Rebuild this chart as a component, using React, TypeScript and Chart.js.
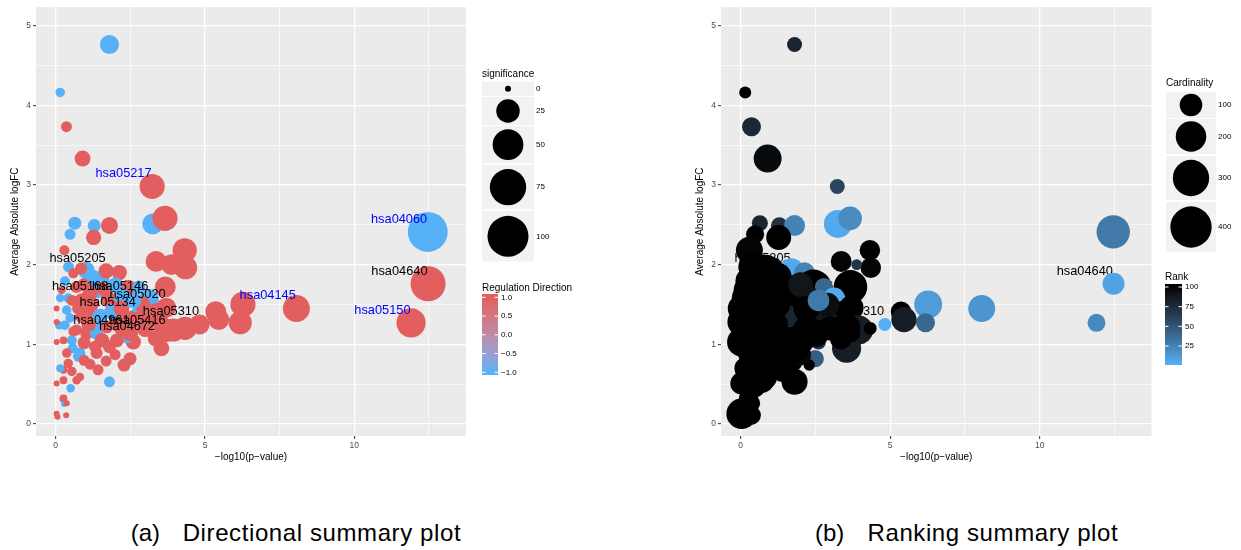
import React, { useEffect, useRef } from "react";
import { Chart, registerables } from "chart.js";

Chart.register(...registerables);

const FONT = "'Liberation Sans', Arial, Helvetica, sans-serif";
Chart.defaults.font.family = FONT;

// ---- Data ----
// -log10(p-value)
const pathX = [
  1.80, 0.15, 0.36, 0.90, 3.23, 3.25, 3.66, 12.46, 12.47, 11.90,
  8.06, 6.27, 6.18, 5.36, 5.46, 4.82, 4.32, 4.35, 3.88, 3.36,
  3.67, 1.29, 1.80, 1.27, 0.64, 0.48, 0.29, 0.43, 1.02, 0.31,
  1.48, 1.41, 1.69, 2.13, 2.43, 2.78, 3.12, 3.38, 3.70, 3.94,
  4.33, 3.54, 3.35, 3.70, 2.60, 2.49, 2.29, 2.38, 1.80, 1.42,
  1.69, 1.99, 1.80, 1.32, 0.81, 0.76, 0.54, 0.57, 0.50, 0.26,
  0.28, 0.37, 0.03, 0.06, 0.35, 0.03, 0.26, 0.26, 0.15, 0.70,
  0.81, 0.54, 0.42, 0.37, 0.03, 0.26, 0.12, 0.31, 0.03, 0.03,
  0.37, 0.15, 0.42, 0.20, 0.48, 0.70, 0.59, 1.04, 1.32, 1.37,
  0.87, 1.09, 0.87, 1.15, 0.70, 0.59, 1.71, 2.04, 1.78, 2.21,
  1.88, 2.70, 2.49, 2.82, 1.48, 1.37, 2.49, 1.10, 1.55, 2.05,
  0.95, 2.20, 1.20, 3.60, 0.75, 0.95, 1.25, 0.55, 0.85, 1.60,
  2.00, 1.15, 0.95, 2.20, 2.90, 3.00, 2.60,
];
// Average absolute logFC
const pathY = [
  4.76, 4.16, 3.73, 3.33, 2.98, 2.51, 2.58, 2.41, 1.76, 1.27,
  1.45, 1.50, 1.27, 1.41, 1.31, 1.25, 2.18, 1.96, 2.00, 2.04,
  1.72, 2.49, 2.49, 2.34, 2.52, 2.38, 2.18, 1.97, 1.93, 1.79,
  1.79, 1.66, 1.92, 1.90, 1.71, 1.72, 1.57, 1.37, 1.46, 1.18,
  1.20, 0.95, 1.07, 1.14, 1.03, 0.82, 0.74, 1.10, 0.53, 0.68,
  0.79, 0.87, 0.97, 0.97, 0.89, 0.85, 1.05, 0.95, 0.45, 0.32,
  0.25, 0.26, 0.13, 0.09, 0.11, 0.51, 0.55, 0.68, 0.70, 0.55,
  0.59, 0.66, 0.76, 0.89, 1.03, 1.05, 1.24, 1.24, 1.28, 1.45,
  1.43, 1.58, 1.58, 1.68, 1.33, 1.18, 1.16, 1.14, 1.22, 1.14,
  1.35, 1.41, 1.56, 1.64, 1.72, 1.89, 1.22, 1.26, 1.56, 1.60,
  1.41, 1.36, 1.31, 1.31, 1.35, 0.89, 1.14, 1.25, 1.05, 1.05,
  1.02, 1.45, 1.50, 1.22, 1.45, 1.75, 1.85, 1.55, 1.95, 1.70,
  1.75, 0.75, 0.80, 1.20, 1.50, 1.20, 1.55,
];
// Regulation direction (1 = up, -1 = down)
const pathDir = [
  -1, -1, 1, 1, 1, -1, 1, -1, 1, 1,
  1, 1, 1, 1, 1, 1, 1, 1, 1, 1,
  1, -1, 1, 1, -1, -1, 1, -1, -1, -1,
  -1, -1, 1, 1, 1, -1, -1, 1, 1, 1,
  1, 1, 1, 1, 1, 1, 1, -1, -1, 1,
  1, 1, 1, 1, -1, -1, -1, -1, -1, 1,
  -1, 1, 1, 1, 1, 1, 1, 1, -1, 1,
  1, 1, 1, 1, 1, 1, -1, -1, 1, 1,
  -1, -1, -1, 1, -1, 1, 1, 1, -1, -1,
  1, 1, 1, 1, 1, 1, 1, 1, 1, -1,
  -1, -1, 1, 1, -1, 1, 1, 1, 1, 1,
  1, 1, 1, 1, 1, 1, -1, 1, 1, 1,
  -1, 1, 1, 1, 1, 1, -1,
];
// Significance (bubble size, panel a)
const pathSignificance = [
  14, 1, 2, 8, 30, 18, 30, 94, 69, 44,
  36, 30, 24, 18, 18, 16, 27, 24, 18, 18,
  18, 4, 10, 7, 4, 2, 1.3, 2, 10, 1.3,
  16, 4, 7, 7, 8, 4, 16, 24, 16, 24,
  24, 8, 8, 12, 7, 4, 4, 5, 2, 2,
  2, 2, 4, 3, 2, 2, 1.3, 1.3, 0.5, 0.3,
  0, 0, 0, 0, 0, 0, 0.3, 0.3, 0.3, 0.5,
  0.5, 1, 1, 1, 0, 0.3, 0.5, 1, 0, 0,
  1, 0.5, 1, 0.3, 1, 2, 1.3, 4, 7, 4,
  4, 5, 4, 7, 3, 1.3, 4, 7, 8, 8,
  7, 7, 10, 10, 7, 3, 8, 6, 6, 5,
  4, 8, 6, 14, 3, 4, 5, 2, 3, 5,
  6, 2, 2, 6, 8, 10, 8,
];
// Cardinality (bubble size, panel b)
const pathCardinality = [
  40, 26, 67, 164, 40, 164, 110, 246, 94, 59,
  150, 164, 67, 80, 130, 30, 80, 80, 22, 84,
  250, 50, 84, 126, 46, 60, 150, 200, 140, 180,
  80, 120, 130, 80, 300, 60, 100, 150, 120, 180,
  30, 180, 90, 60, 40, 55, 24, 90, 140, 120,
  100, 90, 200, 160, 150, 130, 170, 150, 60, 70,
  40, 50, 200, 60, 70, 100, 110, 120, 90, 130,
  120, 140, 150, 160, 180, 170, 160, 180, 170, 160,
  190, 150, 170, 140, 200, 180, 170, 200, 180, 160,
  190, 170, 200, 180, 200, 150, 250, 140, 160, 110,
  150, 90, 140, 120, 130, 140, 160, 170, 150, 130,
  160, 140, 150, 110, 160, 170, 150, 180, 160, 150,
  120, 140, 150, 130, 110, 120, 90,
];
// Rank (colour, panel b)
const pathRank = [
  80, 100, 78, 96, 60, 5, 20, 30, 8, 22,
  15, 12, 40, 100, 85, 2, 100, 98, 70, 98,
  100, 72, 25, 100, 80, 100, 98, 100, 100, 100,
  60, 95, 5, 25, 100, 40, 5, 100, 100, 85,
  100, 85, 100, 100, 75, 45, 100, 20, 100, 100,
  100, 98, 100, 100, 100, 100, 100, 100, 100, 100,
  100, 100, 100, 100, 100, 100, 100, 100, 100, 100,
  100, 100, 100, 100, 100, 100, 100, 100, 100, 100,
  100, 100, 100, 100, 100, 100, 100, 100, 96, 100,
  100, 100, 100, 100, 100, 100, 100, 100, 100, 90,
  100, 70, 100, 90, 80, 100, 100, 100, 100, 100,
  100, 100, 100, 100, 100, 100, 100, 100, 100, 100,
  90, 100, 100, 100, 95, 100, 30,
];

// Text labels: pathway id, index of the point it annotates, blue text?
const labelNames = [
  "hsa05217", "hsa04060", "hsa04640", "hsa05150", "hsa04145",
  "hsa05205", "hsa05168", "hsa05146", "hsa05020", "hsa05134",
  "hsa05310", "hsa04961", "hsa05416", "hsa04672",
];
const labelPoint = [4, 7, 8, 9, 10, 32, 98, 36, 38, 101, 15, 106, 43, 42];
const labelBlue = [true, true, false, true, true, false, false, false, false, false, false, false, false, false];

// Axes
const xTicks = [0, 2.5, 5, 7.5, 10, 12.5];
const xMajor = [0, 5, 10];
const yTicks = [0, 0.5, 1, 1.5, 2, 2.5, 3, 3.5, 4, 4.5, 5];
const yMajor = [0, 1, 2, 3, 4, 5];

// Legends
const sigLegend = [0, 25, 50, 75, 100];
const dirLegend = [1, 0.5, 0, -0.5, -1];
const cardLegend = [100, 200, 300, 400];
const rankLegend = [100, 75, 50, 25];

// ---- Scales / helpers ----
const X_MIN = -0.66, X_MAX = 13.74, Y_MIN = -0.15, Y_MAX = 5.23;
const NUDGE_X = -0.96, NUDGE_Y = 0.16;
const BLUE = "#56B1F7", RED = "#E35E5E", BLACK = "#000000";

const sizeSig = (v: number) => 3 + 1.75 * Math.sqrt(Math.max(v, 0));
const sizeCard = (c: number) => 3 + 0.9 * Math.sqrt(Math.max(c - 15, 0));

function hexToRgb(h: string) {
  return [parseInt(h.slice(1, 3), 16), parseInt(h.slice(3, 5), 16), parseInt(h.slice(5, 7), 16)];
}
const toLin = (c: number) => { c /= 255; return c <= 0.04045 ? c / 12.92 : Math.pow((c + 0.055) / 1.055, 2.4); };
const fromLin = (c: number) => {
  const v = c <= 0.0031308 ? 12.92 * c : 1.055 * Math.pow(Math.max(c, 0), 1 / 2.4) - 0.055;
  return Math.round(Math.max(0, Math.min(1, v)) * 255);
};
function rgbToLab(rgb: number[]) {
  const R = toLin(rgb[0]), G = toLin(rgb[1]), B = toLin(rgb[2]);
  const X = (0.4124 * R + 0.3576 * G + 0.1805 * B) / 0.95047;
  const Y = 0.2126 * R + 0.7152 * G + 0.0722 * B;
  const Z = (0.0193 * R + 0.1192 * G + 0.9505 * B) / 1.08883;
  const f = (t: number) => (t > 0.008856 ? Math.cbrt(t) : 7.787 * t + 16 / 116);
  const fx = f(X), fy = f(Y), fz = f(Z);
  return [116 * fy - 16, 500 * (fx - fy), 200 * (fy - fz)];
}
function labToRgb(lab: number[]) {
  const fy = (lab[0] + 16) / 116, fx = fy + lab[1] / 500, fz = fy - lab[2] / 200;
  const inv = (t: number) => (t * t * t > 0.008856 ? t * t * t : (t - 16 / 116) / 7.787);
  const X = inv(fx) * 0.95047, Y = inv(fy), Z = inv(fz) * 1.08883;
  const R = 3.2406 * X - 1.5372 * Y - 0.4986 * Z;
  const G = -0.9689 * X + 1.8758 * Y + 0.0415 * Z;
  const B = 0.0557 * X - 0.204 * Y + 1.057 * Z;
  return `rgb(${fromLin(R)},${fromLin(G)},${fromLin(B)})`;
}
function mixLab(a: string, b: string, t: number) {
  const la = rgbToLab(hexToRgb(a)), lb = rgbToLab(hexToRgb(b));
  const tt = Math.max(0, Math.min(1, t));
  return labToRgb([0, 1, 2].map((k) => la[k] + (lb[k] - la[k]) * tt));
}
const dirColor = (d: number) => mixLab(BLUE, RED, (d + 1) / 2);
const rankColor = (r: number) => mixLab(BLUE, BLACK, (r - 1) / 99);
const minus = (s: string) => s.replace("-", "\u2212");

type Panel = "a" | "b";

function drawLabels(chart: any, panel: Panel) {
  const { ctx, scales } = chart;
  ctx.save();
  ctx.font = `12.8px ${FONT}`;
  ctx.textAlign = "center";
  ctx.textBaseline = "middle";
  labelNames.forEach((name, i) => {
    if (panel === "b" && labelBlue[i]) return;
    const p = labelPoint[i];
    const x = scales.x.getPixelForValue(pathX[p] + NUDGE_X);
    const y = scales.y.getPixelForValue(pathY[p] + NUDGE_Y);
    ctx.fillStyle = labelBlue[i] ? "#0000FF" : "#000000";
    ctx.fillText(name, x, y);
  });
  ctx.restore();
}

function drawAxisTitles(chart: any) {
  const { ctx, chartArea: ca } = chart;
  ctx.save();
  ctx.fillStyle = "#000";
  ctx.font = `10px ${FONT}`;
  ctx.textAlign = "center";
  ctx.textBaseline = "middle";
  ctx.fillText("\u2212log10(p\u2212value)", (ca.left + ca.right) / 2, ca.bottom + 21);
  ctx.translate(ca.left - 20.5, (ca.top + ca.bottom) / 2);
  ctx.rotate(-Math.PI / 2);
  ctx.fillText("Average Absolute logFC", 0, 0);
  ctx.restore();
}

function drawSizeKeys(ctx: any, title: string, titleY: number, x: number, w: number,
  tops: number[], hs: number[], values: number[], size: (v: number) => number, labelX: number) {
  ctx.fillStyle = "#000";
  ctx.font = `10px ${FONT}`;
  ctx.textAlign = "left";
  ctx.textBaseline = "middle";
  ctx.fillText(title, x, titleY);
  values.forEach((v, i) => {
    ctx.fillStyle = "#F2F2F2";
    ctx.fillRect(x, tops[i], w, hs[i]);
    const cy = tops[i] + hs[i] / 2;
    ctx.fillStyle = "#000";
    ctx.beginPath();
    ctx.arc(x + w / 2, cy, size(v), 0, Math.PI * 2);
    ctx.fill();
    ctx.font = `8px ${FONT}`;
    ctx.fillText(String(v), labelX, cy);
  });
}

function drawColorBar(ctx: any, title: string, titleY: number, x: number, w: number, y0: number, y1: number,
  valToY: (v: number) => number, yToColor: (y: number) => string, ticks: number[], fmt: (v: number) => string, labelX: number) {
  ctx.fillStyle = "#000";
  ctx.font = `10px ${FONT}`;
  ctx.textAlign = "left";
  ctx.textBaseline = "middle";
  ctx.fillText(title, x, titleY);
  const g = ctx.createLinearGradient(0, y0, 0, y1);
  const n = 30;
  for (let k = 0; k <= n; k++) {
    const y = y0 + ((y1 - y0) * k) / n;
    g.addColorStop(k / n, yToColor(y));
  }
  ctx.fillStyle = g;
  ctx.fillRect(x, y0, w, y1 - y0);
  ctx.strokeStyle = "#FFFFFF";
  ctx.lineWidth = 1;
  ctx.font = `8px ${FONT}`;
  ticks.forEach((v) => {
    const y = valToY(v);
    ctx.beginPath();
    ctx.moveTo(x, y); ctx.lineTo(x + 3.5, y);
    ctx.moveTo(x + w - 3.5, y); ctx.lineTo(x + w, y);
    ctx.stroke();
    ctx.fillStyle = "#000";
    ctx.fillText(fmt(v), labelX, y);
  });
}

function drawLegend(chart: any, panel: Panel) {
  const ctx = chart.ctx;
  ctx.save();
  if (panel === "a") {
    drawSizeKeys(ctx, "significance", 74, 482, 52,
      [81.7, 97, 126, 165, 211], [14.3, 28, 37.3, 44.3, 50.7], sigLegend, sizeSig, 536);
    const vToY = (v: number) => 334.8 - v * 37.5;
    drawColorBar(ctx, "Regulation Direction", 288, 482, 16, 294, 375, vToY,
      (y) => dirColor(Math.max(-1, Math.min(1, (334.8 - y) / 37.5))), dirLegend,
      (v) => minus(v.toFixed(1)), 501);
  } else {
    drawSizeKeys(ctx, "Cardinality", 83, 546, 50,
      [92, 119, 156, 202], [26, 35, 44, 50], cardLegend, sizeCard, 598);
    const vToY = (v: number) => 287 + (100 - v) * 0.787;
    drawColorBar(ctx, "Rank", 277, 545, 17, 284, 365, vToY,
      (y) => rankColor(Math.max(1, Math.min(100, 100 - (y - 287) / 0.787))), rankLegend,
      (v) => String(v), 565);
  }
  ctx.restore();
}

function ggPlugin(panel: Panel) {
  return {
    id: "gg_" + panel,
    beforeDraw(chart: any) {
      const { ctx, chartArea: ca } = chart;
      ctx.save();
      ctx.fillStyle = "#EBEBEB";
      ctx.fillRect(ca.left, ca.top, ca.right - ca.left, ca.bottom - ca.top);
      ctx.restore();
    },
    beforeDatasetsDraw(chart: any) {
      if (panel === "b") drawLabels(chart, panel);
    },
    afterDatasetsDraw(chart: any) {
      if (panel === "a") drawLabels(chart, panel);
    },
    afterDraw(chart: any) {
      drawAxisTitles(chart);
      drawLegend(chart, panel);
    },
  };
}

function axisOptions(axis: "x" | "y", ticks: number[], major: number[], fit: (s: any) => void) {
  const isMajor = (c: any) => c && c.tick && major.includes(c.tick.value);
  return {
    type: "linear",
    min: axis === "x" ? X_MIN : Y_MIN,
    max: axis === "x" ? X_MAX : Y_MAX,
    afterBuildTicks: (s: any) => { s.ticks = ticks.map((v) => ({ value: v })); },
    afterFit: fit,
    border: { display: false },
    grid: {
      color: "#FFFFFF",
      lineWidth: (c: any) => (isMajor(c) ? 1.3 : 0.65),
      tickColor: (c: any) => (isMajor(c) ? "#333333" : "rgba(0,0,0,0)"),
      tickWidth: 1,
      tickLength: 3,
      drawTicks: true,
    },
    ticks: {
      autoSkip: false,
      maxRotation: 0,
      padding: 2,
      color: "#4D4D4D",
      font: { size: 8.5, family: FONT },
      callback: (v: any) => (major.includes(v) ? String(v) : ""),
    },
  };
}

function makeConfig(panel: Panel, padLeft: number, padRight: number): any {
  const data = pathX.map((x, i) => ({
    x,
    y: pathY[i],
    r: panel === "a" ? sizeSig(pathSignificance[i]) : sizeCard(pathCardinality[i]),
  }));
  const colors = pathX.map((_, i) => (panel === "a" ? dirColor(pathDir[i]) : rankColor(pathRank[i])));
  return {
    type: "bubble",
    data: {
      datasets: [{
        data,
        backgroundColor: colors,
        borderWidth: 0,
        hoverBorderWidth: 0,
        hoverRadius: 0,
        clip: 0,
      }],
    },
    options: {
      animation: false,
      responsive: false,
      events: [],
      layout: { autoPadding: false, padding: { left: padLeft, right: padRight, top: 7, bottom: 0 } },
      plugins: { legend: { display: false }, tooltip: { enabled: false }, title: { display: false } },
      scales: {
        x: axisOptions("x", xTicks, xMajor, (s: any) => { s.height = 34; }),
        y: axisOptions("y", yTicks, yMajor, (s: any) => { s.width = 36; }),
      },
    },
    plugins: [ggPlugin(panel)],
  };
}

function PlotPanel({ panel, left, width, padLeft, padRight }: { panel: Panel; left: number; width: number; padLeft: number; padRight: number }) {
  const ref = useRef<HTMLCanvasElement>(null);
  useEffect(() => {
    if (!ref.current) return;
    const chart = new Chart(ref.current, makeConfig(panel, padLeft, padRight));
    return () => chart.destroy();
  }, [panel, padLeft, padRight]);
  return (
    <canvas
      ref={ref}
      width={width}
      height={470}
      style={{ position: "absolute", left, top: 0, width, height: 470, display: "block" }}
    />
  );
}

const capStyle: React.CSSProperties = {
  position: "absolute",
  top: 521.2,
  fontFamily: FONT,
  fontSize: 24,
  lineHeight: "24px",
  whiteSpace: "nowrap",
  color: "#000",
};

export default function App() {
  return (
    <div style={{ position: "absolute", left: 0, top: 0, width: 1241, height: 550, background: "#FFFFFF", overflow: "hidden" }}>
      <PlotPanel panel="a" left={0} width={620} padLeft={0} padRight={154} />
      <PlotPanel panel="b" left={620} width={621} padLeft={65} padRight={89.5} />
      <div style={{ ...capStyle, left: 130.7 }}>(a)</div>
      <div style={{ ...capStyle, left: 182.7, letterSpacing: "0.6px" }}>Directional summary plot</div>
      <div style={{ ...capStyle, left: 815 }}>(b)</div>
      <div style={{ ...capStyle, left: 867.5, letterSpacing: "0.6px" }}>Ranking summary plot</div>
    </div>
  );
}
